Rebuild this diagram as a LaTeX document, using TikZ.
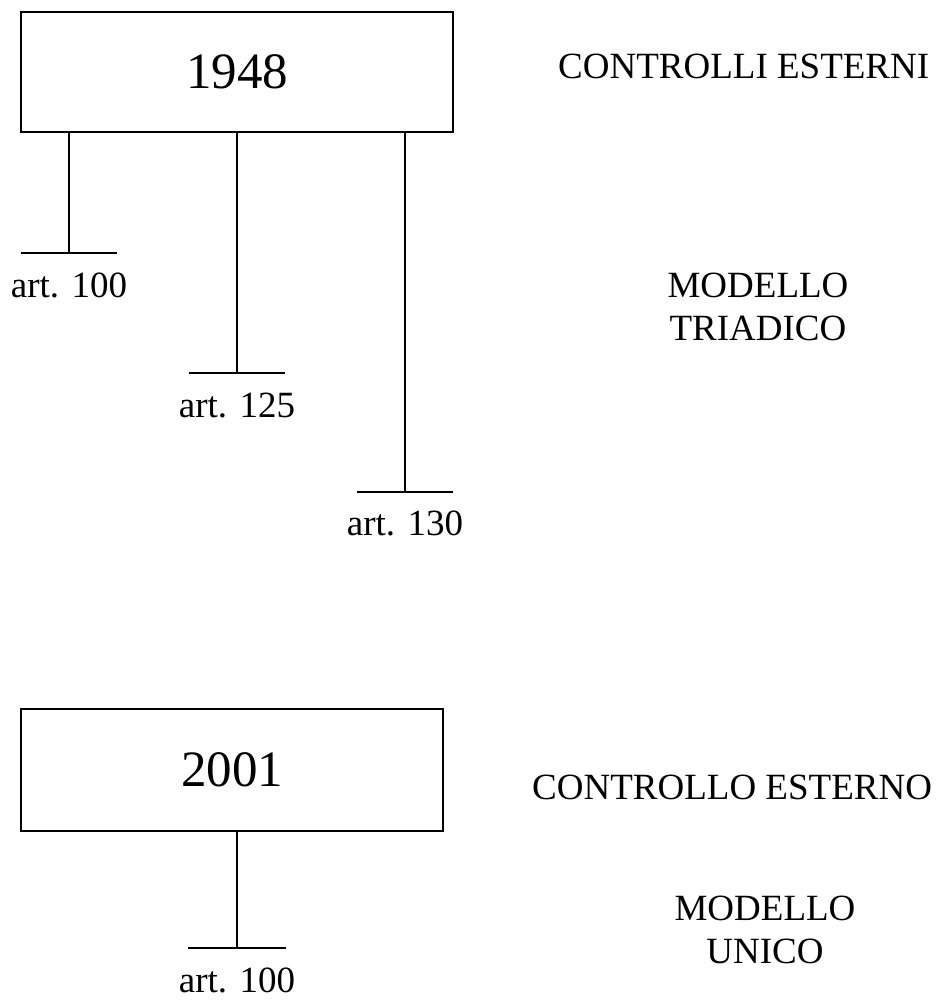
\documentclass[tikz,border=0pt]{standalone}
\usepackage{fontspec}
\setmainfont{Liberation Serif}
\usetikzlibrary{positioning}

\begin{document}
\begin{tikzpicture}[
  x=1pt,y=-1pt,
  every node/.style={inner sep=0pt,align=center},
  yearbox/.style={draw,line width=1.9pt,font=\fontsize{51}{60}\selectfont},
  lbl/.style={font=\fontsize{37}{43}\selectfont},
  stem/.style={line width=1.9pt}
]
\useasboundingbox (0,0) rectangle (938,1001);

% 1948
\node[yearbox,minimum width=432pt,minimum height=120pt] (y48) at (237,72) {1948};
\node[lbl,anchor=base west] (ctrlA) at (558,78) {CONTROLLI ESTERNI};
\node[lbl,anchor=base] (modA) at (758,340) {MODELLO\\TRIADICO};

\coordinate (a100l) at (21,253);  \coordinate (a100r) at (117,253);
\coordinate (a125l) at (189,373); \coordinate (a125r) at (285,373);
\coordinate (a130l) at (357,492); \coordinate (a130r) at (453,492);
\draw[stem] (a100l) -- (a100r);
\draw[stem] (a125l) -- (a125r);
\draw[stem] (a130l) -- (a130r);
\draw[stem] (y48.south -| 69,0) -- (69,253);
\draw[stem] (y48.south -| 237,0) -- (237,373);
\draw[stem] (y48.south -| 405,0) -- (405,492);
\node[lbl,anchor=base] (art100) at (69,297) {art. 100};
\node[lbl,anchor=base] (art125) at (237,417) {art. 125};
\node[lbl,anchor=base] (art130) at (405,535) {art. 130};

% 2001
\node[yearbox,minimum width=422pt,minimum height=122pt] (y01) at (232,770) {2001};
\node[lbl,anchor=base west] (ctrlB) at (532,799) {CONTROLLO ESTERNO};
\node[lbl,anchor=base] (modB) at (765,963) {MODELLO\\UNICO};

\coordinate (b100l) at (188,948); \coordinate (b100r) at (286,948);
\draw[stem] (b100l) -- (b100r);
\draw[stem] (y01.south -| 237,0) -- (237,948);
\node[lbl,anchor=base] (art100b) at (237,992) {art. 100};
\end{tikzpicture}
\end{document}
